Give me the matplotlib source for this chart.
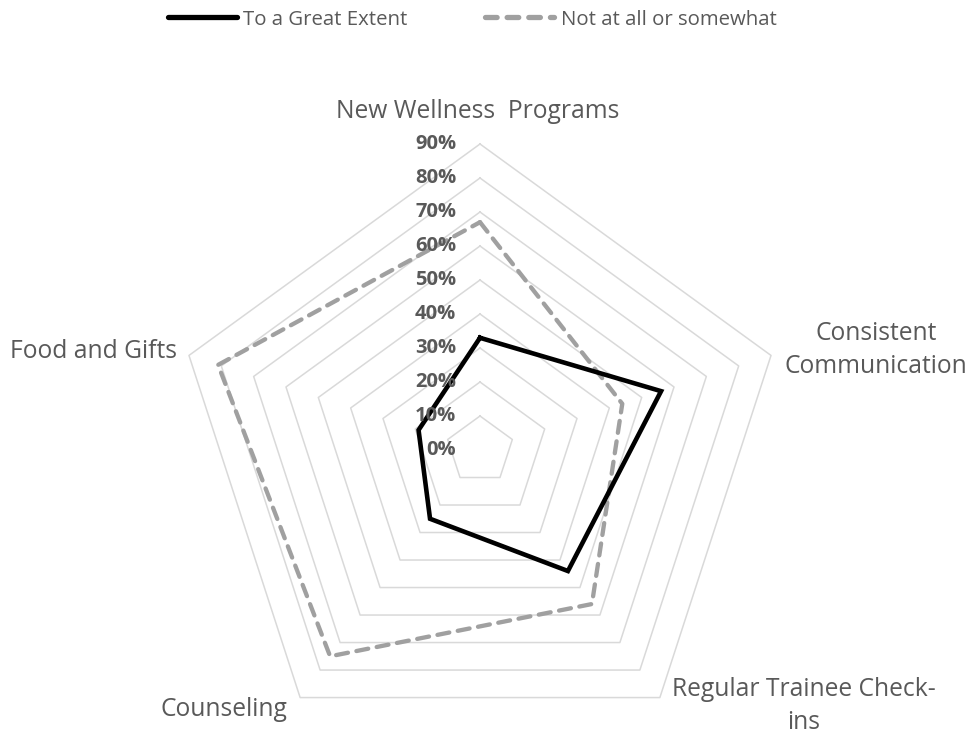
"""
    Trainee support radar chart
"""

import numpy as np
import matplotlib
matplotlib.use("Agg")
import matplotlib.pyplot as plt
from matplotlib.lines import Line2D
from matplotlib.transforms import ScaledTranslation

#####################################################################################################

categories = ["New Wellness  Programs", "Consistent\nCommunication", "Regular Trainee Check-\nins",
              "Counseling", "Food and Gifts"]
great_extent = [33, 56, 44, 25, 19]
not_at_all = [67, 44, 56, 75, 81]
ring_levels = [10, 20, 30, 40, 50, 60, 70, 80, 90]
tick_labels = ["0%", "10%", "20%", "30%", "40%", "50%", "60%", "70%", "80%", "90%"]
series_names = ["To a Great Extent", "Not at all or somewhat"]

W, H = 971, 738
CX, CY, RAD = 480, 450, 306       # centre and 90% radius in pixels
TEXT = "#595959"
FONT = "Open Sans"

#####################################################################################################

def closed(vals):
    return list(vals) + [vals[0]]

fig = plt.figure(figsize=(W / 100, H / 100), dpi=100)
ax = fig.add_axes([(CX - RAD) / W, (H - CY - RAD) / H, 2 * RAD / W, 2 * RAD / H], projection="polar")
ax.set_theta_offset(np.pi / 2)
ax.set_theta_direction(-1)
ax.set_ylim(0, 90)
ax.axis("off")

angles = np.linspace(0, 2 * np.pi, len(categories), endpoint=False)
th = closed(angles)

for lvl in ring_levels:
    ax.plot(th, [lvl] * len(th), color="#d9d9d9", lw=1.1, zorder=1, clip_on=False)

ax.plot(th, closed(great_extent), color="black", lw=3.3, solid_joinstyle="miter", zorder=3, clip_on=False)
ax.plot(th, closed(not_at_all), color="#a0a0a0", lw=3.1, dashes=(2.8, 2.0),
        dash_capstyle="round", zorder=2, clip_on=False)

# value ticks just left of the vertical axis
shift = ax.transData + ScaledTranslation(-0.24, 0, fig.dpi_scale_trans)
for lvl, lab in zip([0] + ring_levels, tick_labels):
    ax.text(0, lvl, lab, transform=shift, ha="right", va="center", fontsize=14.5,
            fontweight="bold", color=TEXT, family=FONT, zorder=4)

# category names
label_pos = [(478, 111), (876, 350), (804, 706), (224, 710), (93, 352)]
for name, (x, y) in zip(categories, label_pos):
    fig.text(x / W, 1 - y / H, name, ha="center", va="center", fontsize=17.7, color=TEXT,
             family=FONT, linespacing=1.42)

handles = [Line2D([], [], color="black", lw=3.8, solid_capstyle="round"),
           Line2D([], [], color="#a0a0a0", lw=3.8, dashes=(2.2, 1.9), dash_capstyle="round")]
fig.legend(handles, series_names, loc="upper center", bbox_to_anchor=(472 / W, 1.012), ncol=2,
           frameon=False, handlelength=3.4, handletextpad=0.3, columnspacing=3.8,
           prop={"family": FONT, "size": 14.7}, labelcolor=TEXT)

fig.savefig("out.png", dpi=100)
